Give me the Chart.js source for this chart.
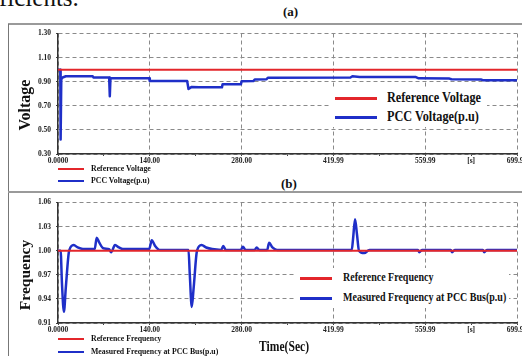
<!DOCTYPE html>
<html>
<head>
<meta charset="utf-8">
<script src="https://cdn.jsdelivr.net/npm/chart.js@4.4.1/dist/chart.umd.min.js"></script>
<style>
  body { margin: 0; width: 522px; height: 356px; overflow: hidden; background: #fff; position: relative;
         font-family: "Liberation Serif", "DejaVu Serif", serif; color: #111; }
  .abs { position: absolute; white-space: nowrap; }
  .big { font-weight: bold; transform-origin: 0 50%; }
  .small { font-weight: bold; font-size: 7.8px; line-height: 10px; }
  .ln { position: absolute; }
  .box { position: absolute; background: #fff; }
  canvas { position: absolute; left: 0; }
</style>
</head>
<body>

<div class="abs" style="left:-1px;top:-15px;font-size:25px;line-height:25px;">ficients.</div>

<!-- figure frame -->
<div class="ln" style="left:8px;top:23px;width:514px;height:2px;background:#9a9a9a;"></div>
<div class="ln" style="left:8px;top:24px;width:1px;height:332px;background:#777;"></div>
<div class="ln" style="left:8px;top:191px;width:514px;height:2px;background:#9a9a9a;"></div>

<div class="abs" style="left:283px;top:5px;font-size:13px;line-height:14px;font-weight:bold;">(a)</div>
<div class="abs" style="left:281px;top:177px;font-size:13px;line-height:14px;font-weight:bold;">(b)</div>

<canvas id="voltage" width="540" height="168" style="top:24px;"></canvas>
<canvas id="frequency" width="540" height="175" style="top:193px;"></canvas>

<!-- axis titles -->
<div class="abs" style="left:25px;top:105px;font-size:16px;font-weight:bold;transform:translate(-50%,-50%) rotate(-90deg);">Voltage</div>
<div class="abs" style="left:25px;top:275px;font-size:15.5px;font-weight:bold;transform:translate(-50%,-50%) rotate(-90deg);">Frequency</div>
<div class="abs" style="left:259px;top:338px;font-size:14.5px;line-height:16px;font-weight:bold;transform:scaleX(0.8);transform-origin:0 50%;">Time(Sec)</div>

<!-- legends, panel (a) -->
<div class="box" style="left:331px;top:88px;width:156px;height:39px;"></div>
<div class="ln" style="left:335px;top:97px;width:42px;height:3px;background:#e3262b;"></div>
<div class="abs big" style="left:387px;top:90px;font-size:14px;line-height:16px;transform:scaleX(0.875);">Reference Voltage</div>
<div class="ln" style="left:335px;top:116px;width:42px;height:3px;background:#1f2fc8;"></div>
<div class="abs big" style="left:387px;top:109px;font-size:14px;line-height:16px;transform:scaleX(0.875);">PCC Voltage(p.u)</div>

<div class="ln" style="left:58px;top:168px;width:26px;height:2px;background:#e3262b;"></div>
<div class="abs small" style="left:91px;top:164px;">Reference Voltage</div>
<div class="ln" style="left:58px;top:180px;width:26px;height:2px;background:#1f2fc8;"></div>
<div class="abs small" style="left:91px;top:176px;">PCC Voltage(p.u)</div>

<!-- legends, panel (b) -->
<div class="box" style="left:295px;top:268px;width:214px;height:40px;"></div>
<div class="ln" style="left:300px;top:277px;width:32px;height:3px;background:#e3262b;"></div>
<div class="abs big" style="left:343px;top:270px;font-size:12.5px;line-height:15px;transform:scaleX(0.8);">Reference Frequency</div>
<div class="ln" style="left:300px;top:297px;width:32px;height:3px;background:#1f2fc8;"></div>
<div class="abs big" style="left:343px;top:290px;font-size:12.5px;line-height:15px;transform:scaleX(0.8);">Measured Frequency at PCC Bus(p.u)</div>

<div class="ln" style="left:58px;top:338px;width:26px;height:2px;background:#e3262b;"></div>
<div class="abs small" style="left:91px;top:334px;">Reference Frequency</div>
<div class="ln" style="left:58px;top:351px;width:26px;height:2px;background:#1f2fc8;"></div>
<div class="abs small" style="left:91px;top:347px;">Measured Frequency at PCC Bus(p.u)</div>

<script>
// time axis (seconds)
var xTickValues = [0, 70, 140, 210, 280, 350, 419.99, 490, 559.99, 630, 699.99];
var xTickLabels = ['0.0000', '', '140.00', '', '280.00', '', '419.99', '', '559.99', '[s]', '699.99'];

// (a) voltage
var voltTicks = [0.30, 0.50, 0.70, 0.90, 1.10, 1.30];
var refTime = [0, 699.99];
var voltRef = [1.0, 1.0];
var voltTime = [0, 3.5, 4, 5, 7, 12, 53, 54, 78, 79, 80, 139, 140, 197, 199, 204, 215, 250, 251, 279, 280,
                298, 300, 318, 320, 446, 449, 460, 545, 550, 597, 600, 645, 648, 699.99];
var voltPcc = [1.0, 1.0, 0.42, 0.92, 0.935, 0.945, 0.945, 0.935, 0.935, 0.78, 0.93, 0.928, 0.905, 0.905, 0.84,
               0.857, 0.853, 0.853, 0.878, 0.878, 0.903, 0.905, 0.918, 0.92, 0.933, 0.935, 0.945, 0.94, 0.94,
               0.928, 0.926, 0.92, 0.918, 0.913, 0.912];

// (b) frequency
var freqTicks = [0.91, 0.94, 0.97, 1.00, 1.03, 1.06];
var freqRef = [1.0, 1.0];
var freqTime = [0, 4, 6, 9, 12, 17, 24, 30, 38, 56, 59, 63, 69, 78, 81, 87, 93, 99, 139, 143, 148, 155,
                199, 201, 204, 207, 212, 219, 226, 235, 249, 252, 256, 279, 282, 286, 300, 303, 307, 319, 322,
                327, 334, 448, 450, 453, 456, 459, 467, 475, 549, 551, 555, 599, 601, 605, 648, 650, 654, 699.99];
var freqPcc = [1.0, 1.0, 0.96, 0.924, 0.955, 1.0, 1.007, 1.004, 1.002, 1.002, 1.016, 1.010, 1.003, 1.002,
               0.998, 1.007, 1.004, 1.002, 1.002, 1.013, 1.006, 1.001, 1.001, 0.97, 0.93, 0.955, 1.0, 1.007,
               1.004, 1.002, 1.001, 1.006, 1.001, 1.001, 1.005, 1.001, 1.001, 1.004, 1.001, 1.001, 1.010,
               1.004, 1.001, 1.001, 1.015, 1.039, 1.02, 1.0, 0.997, 1.001, 1.001, 0.998, 1.001, 1.001, 0.998,
               1.001, 1.001, 0.998, 1.001, 1.001];

function pts(xs, ys) {
  return xs.map(function (x, i) { return { x: x, y: ys[i] }; });
}

var tickFont = { family: 'Liberation Serif', size: 7.5, weight: 'bold' };

function makeChart(id, refVals, pccTime, pccVals, yTicks, xHeight, smooth) {
  return new Chart(document.getElementById(id), {
    type: 'line',
    data: {
      datasets: [{
        data: pts(refTime, refVals),
        borderColor: '#e3262b',
        borderWidth: 2,
        pointRadius: 0
      }, {
        data: pts(pccTime, pccVals),
        borderColor: '#1f2fc8',
        borderWidth: 2.5,
        pointRadius: 0,
        borderJoinStyle: 'round',
        cubicInterpolationMode: smooth ? 'monotone' : 'default'
      }]
    },
    options: {
      responsive: false,
      animation: false,
      layout: { padding: { left: 9, right: 23, top: 8, bottom: 0 } },
      plugins: { legend: { display: false }, tooltip: { enabled: false } },
      scales: {
        x: {
          type: 'linear',
          min: 0,
          max: 699.99,
          afterBuildTicks: function (s) { s.ticks = xTickValues.map(function (v) { return { value: v }; }); },
          afterFit: function (s) { s.height = xHeight; },
          ticks: {
            autoSkip: false, maxRotation: 0, minRotation: 0, padding: 1, color: '#222', font: tickFont,
            callback: function (v, i) { return xTickLabels[i]; }
          },
          grid: {
            color: function (c) { return c.tick && xTickLabels[c.index] !== '' && xTickLabels[c.index] !== '[s]' ? '#8a8a8a' : 'rgba(0,0,0,0)'; },
            tickColor: '#444',
            tickLength: 2,
            lineWidth: 1
          },
          border: { display: true, color: '#333', width: 1.5, dash: [4, 3] }
        },
        y: {
          min: yTicks[0],
          max: yTicks[yTicks.length - 1],
          afterBuildTicks: function (s) { s.ticks = yTicks.map(function (v) { return { value: v }; }); },
          afterFit: function (s) { s.width = 49; },
          ticks: {
            padding: 5, color: '#222', font: tickFont,
            callback: function (v) { return v.toFixed(2); }
          },
          grid: { color: '#8a8a8a', tickColor: '#444', tickLength: 2, lineWidth: 1 },
          border: { display: true, color: '#333', width: 1.5, dash: [4, 3] }
        }
      }
    }
  });
}

makeChart('voltage', voltRef, voltTime, voltPcc, voltTicks, 38, false);
makeChart('frequency', freqRef, freqTime, freqPcc, freqTicks, 45, true);
</script>
</body>
</html>
